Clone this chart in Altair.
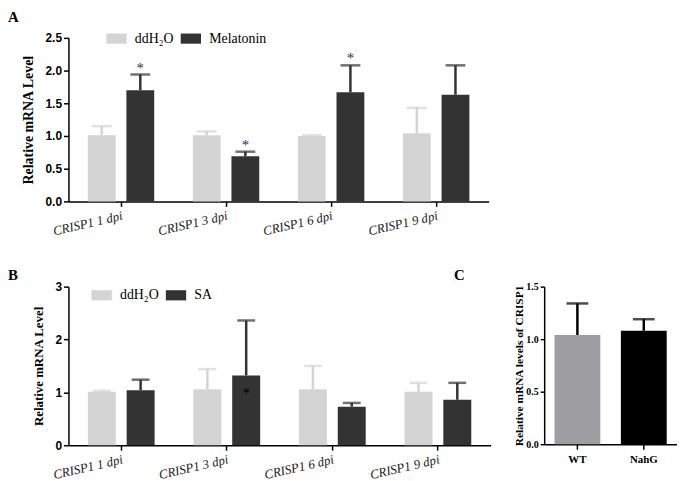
import altair as alt
import pandas as pd

# ---------------- data ----------------
categories = ["CRISP1 1 dpi", "CRISP1 3 dpi", "CRISP1 6 dpi", "CRISP1 9 dpi"]

a_series = ["ddH₂O", "Melatonin"]
a_ddh2o = [1.01, 1.01, 1.00, 1.04]
a_ddh2o_err = [0.14, 0.06, 0.01, 0.39]
a_mel = [1.70, 0.69, 1.67, 1.63]
a_mel_err = [0.24, 0.07, 0.41, 0.45]
a_mel_star = ["*", "*", "*", ""]

b_series = ["ddH₂O", "SA"]
b_ddh2o = [1.01, 1.06, 1.06, 1.01]
b_ddh2o_err = [0.02, 0.38, 0.44, 0.17]
b_sa = [1.04, 1.32, 0.73, 0.86]
b_sa_err = [0.20, 1.04, 0.07, 0.32]
b_sa_star = ["", "*", "", ""]
b_sa_star_y = [0, 1.04, 0, 0]

c_genotypes = ["WT", "NahG"]
c_values = [1.04, 1.08]
c_err = [0.30, 0.11]

LIGHT = "#d4d4d4"
DARK = "#333333"
SERIF = "Liberation Serif"
SANS = "Liberation Sans"


def make_df(series, v1, e1, v2, e2, stars, star_y):
    rows = []
    for i, c in enumerate(categories):
        rows.append({"cat": c, "series": series[0], "value": v1[i], "upper": v1[i] + e1[i],
                     "star": "", "star_y": 0})
        rows.append({"cat": c, "series": series[1], "value": v2[i], "upper": v2[i] + e2[i],
                     "star": stars[i], "star_y": star_y[i]})
    return pd.DataFrame(rows)


a_df = make_df(a_series, a_ddh2o, a_ddh2o_err, a_mel, a_mel_err, a_mel_star,
               [a_mel[i] + a_mel_err[i] for i in range(4)])
b_df = make_df(b_series, b_ddh2o, b_ddh2o_err, b_sa, b_sa_err, b_sa_star, b_sa_star_y)


def grouped(df, series, ymax, yvals, yfmt, w, h, lx, ly, ytitle, ytitle_size, star_dy,
            star_color, letters, cap):
    color_scale = alt.Scale(domain=series, range=[LIGHT, DARK])
    xaxis = alt.Axis(labelAngle=347, labelAlign="right", labelBaseline="top",
                     labelFont=SERIF, labelFontStyle="italic", labelFontSize=13,
                     labelColor="#222", labelPadding=3, tickSize=5, tickWidth=1.5,
                     tickColor="black", domainColor="black", domainWidth=1.5, title=None)
    yaxis = alt.Axis(values=yvals, format=yfmt, labelFont=SANS, labelFontWeight="bold",
                     labelFontSize=12, labelColor="black", labelPadding=2, tickSize=5,
                     tickWidth=1.5, tickColor="black", domainColor="black", domainWidth=1.5,
                     labelOverlap=False, grid=False, title=ytitle, titleFont=SERIF,
                     titleFontWeight="bold", titleFontSize=ytitle_size, titleColor="black",
                     titlePadding=10)
    yscale = alt.Scale(domain=[0, ymax], nice=False)
    base = alt.Chart(df).encode(
        x=alt.X("cat:N", sort=categories, scale=alt.Scale(paddingInner=0, paddingOuter=0),
                axis=xaxis),
        xOffset=alt.XOffset("series:N", sort=series,
                            scale=alt.Scale(domain=series, paddingInner=0.28,
                                            paddingOuter=0.5)),
    )
    bars = base.mark_bar().encode(
        y=alt.Y("value:Q", scale=yscale, axis=yaxis),
        color=alt.Color("series:N", scale=color_scale, sort=series,
                        legend=alt.Legend(orient="none", legendX=lx, legendY=ly,
                                          direction="horizontal", title=None,
                                          symbolType="M-1,-0.5H1V0.5H-1Z", symbolSize=420,
                                          symbolStrokeWidth=0, symbolOpacity=1,
                                          labelFont=SERIF, labelFontSize=14,
                                          labelColor="black", labelOffset=8,
                                          columnPadding=6, padding=0)),
    )
    rules = base.mark_rule(strokeWidth=2.5).encode(
        y=alt.Y("value:Q", scale=yscale, axis=yaxis), y2="upper:Q",
        color=alt.Color("series:N", scale=color_scale, legend=None))
    caps = base.mark_tick(size=cap, thickness=2.5).encode(
        y=alt.Y("upper:Q", scale=yscale, axis=yaxis),
        color=alt.Color("series:N", scale=color_scale, legend=None))
    stars = base.transform_filter("datum.star != ''").mark_text(
        font=SERIF, fontSize=15, baseline="alphabetic", dy=star_dy, color=star_color
    ).encode(y=alt.Y("star_y:Q", scale=yscale, axis=yaxis), text="star:N")
    layers = [bars, rules, caps, stars]
    for t, px, py in letters:
        layers.append(
            alt.Chart(pd.DataFrame({"letter": [t]})).mark_text(
                font=SERIF, fontSize=15, fontWeight="bold", align="left", baseline="top",
                color="black").encode(x=alt.value(px), y=alt.value(py), text="letter:N"))
    return alt.layer(*layers).properties(width=w, height=h)


panel_a = grouped(a_df, a_series, 2.5, [0, 0.5, 1, 1.5, 2, 2.5], ".1f", 424, 165, 38, -10,
                  "Relative mRNA Level", 14, -2, DARK, [("A", -61, -28)], 20)
panel_b = grouped(b_df, b_series, 3, [0, 1, 2, 3], "d", 426, 160, 23, -2,
                  "Relative mRNA Level", 13, 8, "black",
                  [("B", -61, -19), ("C", 389, -19)], 18)

c_df = pd.DataFrame({"genotype": c_genotypes, "value": c_values,
                     "upper": [c_values[i] + c_err[i] for i in range(2)]})
c_yscale = alt.Scale(domain=[0, 1.5], nice=False)
c_yaxis = alt.Axis(values=[0, 0.5, 1, 1.5], format=".1f", labelFont=SERIF,
                   labelFontWeight="bold", labelFontSize=10, labelColor="black",
                   labelPadding=2, tickSize=4, tickWidth=1.5, tickColor="black",
                   domainColor="black", domainWidth=1.5, grid=False, labelOverlap=False,
                   title="Relative mRNA levels of CRISP1", titleFont=SERIF,
                   titleFontWeight="bold", titleFontSize=11.5, titleColor="black",
                   titlePadding=1)
c_base = alt.Chart(c_df).encode(
    x=alt.X("genotype:N", sort=c_genotypes,
            scale=alt.Scale(paddingInner=0.31, paddingOuter=0.155),
            axis=alt.Axis(labelAngle=0, labelFont=SERIF, labelFontWeight="bold",
                          labelFontSize=11, labelColor="black", tickSize=5, tickWidth=1.5,
                          tickColor="black", domainColor="black", domainWidth=1.5,
                          labelPadding=4, title=None)))
c_color = alt.Scale(domain=c_genotypes, range=["#9e9ea2", "#000000"])
c_bars = c_base.mark_bar().encode(
    y=alt.Y("value:Q", scale=c_yscale, axis=c_yaxis),
    color=alt.Color("genotype:N", scale=c_color, legend=None))
c_rules = c_base.mark_rule(strokeWidth=2.5, color="black").encode(
    y=alt.Y("value:Q", scale=c_yscale, axis=c_yaxis), y2="upper:Q")
c_caps = c_base.mark_tick(size=22, thickness=2.5, color="black").encode(
    y=alt.Y("upper:Q", scale=c_yscale, axis=c_yaxis))
panel_c = alt.layer(c_bars, c_rules, c_caps).properties(width=134, height=159)

ind = dict(x="independent", y="independent", xOffset="independent", color="independent")
bottom = alt.hconcat(panel_b, panel_c, spacing=54, bounds="flush").resolve_scale(**ind)
chart = alt.vconcat(panel_a, bottom, spacing=86, bounds="flush").resolve_scale(
    **ind).configure_view(stroke=None).properties(padding=0)

chart.save("out.html", embed_options={"renderer": "svg", "actions": False})
